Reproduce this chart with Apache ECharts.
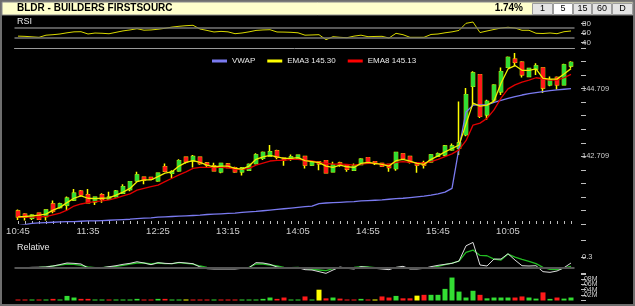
<!DOCTYPE html>
<html>
<head>
<meta charset="utf-8">
<script src="https://cdn.jsdelivr.net/npm/echarts@6.0.0/dist/echarts.min.js"></script>
<style>
html,body{margin:0;padding:0;background:#000;}
#chart{width:635px;height:306px;}
</style>
</head>
<body>
<div id="chart"></div>
<script>
// 5 minute bars, day 1 10:45-15:55, day 2 9:30-10:50
var times = ['10:45','10:50','10:55','11:00','11:05','11:10','11:15','11:20','11:25','11:30',
  '11:35','11:40','11:45','11:50','11:55','12:00','12:05','12:10','12:15','12:20',
  '12:25','12:30','12:35','12:40','12:45','12:50','12:55','13:00','13:05','13:10',
  '13:15','13:20','13:25','13:30','13:35','13:40','13:45','13:50','13:55','14:00',
  '14:05','14:10','14:15','14:20','14:25','14:30','14:35','14:40','14:45','14:50',
  '14:55','15:00','15:05','15:10','15:15','15:20','15:25','15:30','15:35','15:40',
  '15:45','15:50','15:55','9:30','9:35','9:40','9:45','9:50','9:55','10:00',
  '10:05','10:10','10:15','10:20','10:25','10:30','10:35','10:40','10:45','10:50'];

var opens = [141.09,141.00,140.88,141.03,140.93,141.30,141.20,141.27,141.42,141.68,
  141.57,141.37,141.57,141.44,141.52,141.62,141.73,141.99,142.09,142.08,
  141.99,142.40,142.21,142.28,142.68,142.58,142.68,142.51,142.42,142.25,
  142.48,142.37,142.25,142.30,142.50,142.65,142.72,142.87,142.65,142.62,
  142.63,142.70,142.45,142.54,142.58,142.25,142.51,142.45,142.30,142.47,
  142.67,142.55,142.50,142.47,142.35,142.78,142.70,142.50,142.52,142.55,
  142.72,142.75,142.90,142.95,143.35,144.78,145.12,143.94,144.38,144.62,
  145.34,145.58,145.49,145.07,145.29,145.32,144.82,145.04,144.82,145.38];
var closes = [140.92,140.91,140.97,140.85,141.12,141.09,141.30,141.47,141.62,141.57,
  141.34,141.50,141.44,141.50,141.68,141.81,141.96,142.16,142.01,142.03,
  142.21,142.27,142.25,142.58,142.55,142.70,142.50,142.45,142.28,142.50,
  142.38,142.25,142.36,142.47,142.75,142.82,142.84,142.68,142.61,142.69,
  142.74,142.45,142.55,142.49,142.22,142.45,142.45,142.33,142.42,142.62,
  142.52,142.50,142.42,142.38,142.82,142.65,142.53,142.45,142.45,142.75,
  142.78,143.01,143.01,143.10,144.53,145.17,143.89,144.33,144.81,145.21,
  145.63,145.49,145.12,145.30,145.38,144.73,144.97,144.82,145.41,145.48];
var lows = [140.83,140.81,140.83,140.83,140.81,141.03,141.17,141.12,141.39,141.52,
  141.32,141.27,141.34,141.42,141.49,141.60,141.68,141.96,141.88,142.01,
  141.96,142.25,142.06,142.25,142.50,142.38,142.46,142.39,142.28,142.21,
  142.36,142.22,142.14,142.28,142.47,142.60,142.70,142.62,142.43,142.58,
  142.60,142.35,142.42,142.30,142.21,142.25,142.40,142.25,142.30,142.45,
  142.50,142.45,142.39,142.25,142.28,142.60,142.50,142.22,142.35,142.52,
  142.69,142.70,142.87,142.75,143.30,144.23,143.84,143.79,144.33,144.52,
  145.32,145.37,145.04,145.06,145.11,144.58,144.78,144.68,144.81,145.31];
var highs = [141.14,141.03,141.00,141.04,141.14,141.40,141.34,141.52,141.74,141.71,
  141.74,141.52,141.62,141.66,141.71,141.88,141.98,142.25,142.11,142.10,
  142.23,142.50,142.30,142.62,142.70,142.75,142.70,142.54,142.52,142.51,
  142.51,142.40,142.39,142.50,142.80,142.85,143.04,142.90,142.66,142.76,
  142.76,142.72,142.57,142.55,142.60,142.55,142.55,142.47,142.50,142.65,
  142.69,142.57,142.52,142.48,142.84,142.80,142.72,142.53,142.58,142.78,
  142.82,143.04,143.09,144.33,144.73,145.22,145.14,144.38,144.84,145.33,
  145.66,145.76,145.52,145.32,145.46,145.34,145.07,145.07,145.44,145.52];

var ema3 = [140.92,140.93,140.95,140.97,141.00,141.12,141.20,141.34,141.47,141.54,
  141.47,141.46,141.47,141.48,141.56,141.65,141.76,141.96,142.01,142.01,
  142.11,142.21,142.25,142.42,142.53,142.58,142.53,142.45,142.40,142.42,
  142.42,142.35,142.33,142.42,142.62,142.69,142.74,142.69,142.65,142.65,
  142.67,142.58,142.55,142.52,142.42,142.38,142.45,142.40,142.38,142.50,
  142.53,142.50,142.47,142.42,142.58,142.62,142.57,142.50,142.47,142.62,
  142.72,142.84,142.94,143.04,143.66,144.28,144.19,144.22,144.34,144.87,
  145.29,145.39,145.25,145.25,145.29,145.01,144.99,144.99,145.14,145.30];
var ema8 = [140.91,140.91,140.91,140.92,140.93,140.98,141.03,141.12,141.24,141.30,
  141.34,141.37,141.39,141.42,141.47,141.54,141.60,141.71,141.76,141.81,
  141.86,141.96,142.06,142.16,142.25,142.35,142.38,142.38,142.38,142.38,
  142.37,142.33,142.32,142.35,142.45,142.51,142.57,142.59,142.59,142.62,
  142.62,142.59,142.57,142.53,142.50,142.48,142.48,142.47,142.45,142.48,
  142.50,142.50,142.48,142.47,142.53,142.55,142.53,142.52,142.50,142.55,
  142.62,142.70,142.78,142.90,143.17,143.63,143.69,143.83,144.08,144.43,
  144.70,144.82,144.90,144.96,145.03,145.00,144.96,144.96,145.03,145.13];
var vwap = [140.66,140.69,140.73,140.74,140.75,140.76,140.77,140.78,140.78,140.79,
  140.80,140.80,140.81,140.82,140.83,140.84,140.85,140.87,140.88,140.89,
  140.91,140.92,140.93,140.94,140.95,140.96,140.97,140.99,141.00,141.01,
  141.02,141.03,141.05,141.07,141.08,141.10,141.12,141.14,141.16,141.18,
  141.20,141.22,141.24,141.31,141.33,141.34,141.35,141.36,141.37,141.39,
  141.40,141.41,141.42,141.44,141.46,141.47,141.49,141.51,141.53,141.56,
  141.60,141.65,141.76,142.95,144.02,144.22,144.23,144.23,144.30,144.36,
  144.42,144.47,144.52,144.56,144.59,144.62,144.65,144.67,144.69,144.71];

var rsi = [53,52.5,51.5,50.5,55,56,57.5,60,62,62.3,
  57.5,59.5,59,58,61,64,66,68.6,65.5,66,
  67.5,69.5,72,73.7,75,75.8,68,65,61.7,63,
  62,58.1,59.6,62,65,66,66.5,61.7,61.5,61,
  60,55,55.5,56,45.5,51.8,50.5,49.7,53,55,
  51.8,52.3,52.6,49,58.9,56,50.5,50.5,50.5,56.5,
  57.5,60,62,65,80,82.7,60.5,63.8,67,70,
  71.6,70,65.3,65.3,59,58.5,59.6,58.1,62.3,63.8];
var rsiBands = [70, 50];

var relGreen = [0.113,0.113,0.113,0.12,0.129,0.144,0.16,0.18,0.174,0.156,
  0.126,0.113,0.113,0.126,0.138,0.156,0.18,0.198,0.198,0.18,
  0.198,0.186,0.186,0.204,0.192,0.18,0.144,0.12,0.102,0.102,
  0.102,0.102,0.108,0.12,0.18,0.18,0.162,0.144,0.12,0.113,
  0.12,0.096,0.084,0.072,0.06,0.096,0.108,0.113,0.12,0.132,
  0.126,0.113,0.108,0.102,0.113,0.12,0.102,0.102,0.102,0.113,
  0.138,0.168,0.198,0.234,0.39,0.431,0.335,0.329,0.269,0.251,
  0.359,0.305,0.263,0.227,0.186,0.12,0.084,0.078,0.108,0.138];
var relWhite = [0.113,0.113,0.12,0.122,0.126,0.144,0.17,0.198,0.192,0.18,
  0.108,0.113,0.113,0.132,0.15,0.174,0.192,0.221,0.198,0.168,
  0.204,0.192,0.186,0.21,0.198,0.186,0.126,0.096,0.09,0.09,
  0.09,0.09,0.102,0.113,0.204,0.198,0.174,0.126,0.102,0.108,
  0.113,0.078,0.072,0.042,0.012,0.072,0.126,0.102,0.09,0.132,
  0.12,0.102,0.09,0.078,0.12,0.138,0.09,0.09,0.102,0.132,
  0.156,0.174,0.192,0.234,0.508,0.569,0.162,0.144,0.269,0.269,
  0.365,0.251,0.149,0.144,0.149,0.042,0.03,0.054,0.113,0.198];
var relBase = 0.113;

// volume in millions, colour key g/r/y per bar
var vol = [0.003,0.003,0.003,0.003,0.003,0.006,0.003,0.017,0.011,0.006,
  0.006,0.003,0.003,0.003,0.003,0.003,0.003,0.006,0.003,0.003,
  0.006,0.006,0.003,0.003,0.003,0.003,0.003,0.003,0.003,0.003,
  0.003,0.003,0.003,0.003,0.003,0.006,0.011,0.006,0.011,0.003,
  0.003,0.015,0.003,0.040,0.008,0.011,0.007,0.003,0.003,0.006,
  0.003,0.003,0.015,0.011,0.017,0.008,0.008,0.018,0.021,0.021,
  0.021,0.043,0.085,0.033,0.011,0.036,0.021,0.008,0.011,0.011,
  0.011,0.011,0.015,0.011,0.007,0.030,0.006,0.011,0.007,0.011];
var volDir = ('rrgrgrgggr' + 'rggrggggrr' + 'grggyrrrgr' + 'rrgggggrrg' +
  'grgyrgrrrg' + 'ryrrgrryrg' + 'ggggggrggg' + 'grrggrgrgg').split('');

var priceLabels = ['142.709', '144.709'];
var volLabels = ['.02M', '.04M', '.06M', '.08M'];

var upC = '#33dd33', downC = '#ff1a1a', wickC = '#ffff00';
var dirColor = {g: upC, r: downC, y: wickC};
var font = 'Liberation Sans, Arial, sans-serif';
var axisGrey = '#cfcfcf';

var myChart = echarts.init(document.getElementById('chart'));

var candleData = times.map(function (t, i) {
    return [opens[i], closes[i], lows[i], highs[i]];
});
// bodies only (no wick) drawn over the yellow wicks
var bodyData = times.map(function (t, i) {
    return [opens[i], closes[i], Math.min(opens[i], closes[i]), Math.max(opens[i], closes[i])];
});
var volData = vol.map(function (v, i) {
    return {value: v, itemStyle: {color: dirColor[volDir[i]]}};
});

var L = 14.5, R = 60.5;

function rightAxis(gi, min, max, interval, fmt, size) {
    return {
        type: 'value', gridIndex: gi, position: 'right', offset: 6.5,
        min: min, max: max, interval: interval,
        axisLine: {show: false},
        axisTick: {show: true, length: 5, lineStyle: {color: '#bdbdbd'}},
        splitLine: {show: false},
        axisLabel: {margin: 1, color: axisGrey, fontSize: size, fontFamily: font, formatter: fmt}
    };
}

function hiddenX(gi) {
    return {type: 'category', gridIndex: gi, data: times, boundaryGap: true, show: false};
}

function txt(x, y, s, size, color, weight, align) {
    return {
        type: 'text', silent: true,
        style: {x: x, y: y, text: s, fill: color, align: align || 'left', verticalAlign: 'middle',
            font: (weight || 'normal') + ' ' + size + 'px ' + font}
    };
}

var buttons = [['1', 532, 20], ['5', 553, 19], ['15', 573, 18], ['60', 592, 19], ['D', 612, 20]];
var graphics = [
    {type: 'rect', silent: true, shape: {x: 1, y: 1, width: 633, height: 304},
        style: {fill: null, stroke: '#6e6e6e', lineWidth: 2}},
    {type: 'rect', silent: true, shape: {x: 2, y: 2, width: 631, height: 13},
        style: {fill: '#ffffcc', stroke: '#8a8a8a', lineWidth: 1}},
    txt(17, 8.5, 'BLDR - BUILDERS FIRSTSOURC', 10, '#000', 'bold'),
    txt(523, 8.5, '1.74%', 10, '#000', 'bold', 'right'),
    txt(17, 22, 'RSI', 9, '#e6e6e6'),
    txt(17, 248, 'Relative', 9, '#e6e6e6')
];
buttons.forEach(function (b) {
    graphics.push({type: 'rect', silent: true, shape: {x: b[1] + 0.5, y: 3.5, width: b[2], height: 11},
        style: {fill: b[0] === '5' ? '#ffffff' : '#e4e4e4', stroke: '#9c9c9c', lineWidth: 1}});
    graphics.push(txt(b[1] + 0.5 + b[2] / 2, 9, b[0], 9, '#000', 'normal', 'center'));
});

var option = {
    backgroundColor: '#000',
    animation: false,
    graphic: graphics,
    legend: {
        data: ['VWAP', 'EMA3 145.30', 'EMA8 145.13'],
        left: 207, top: 52,
        icon: 'rect', itemWidth: 15, itemHeight: 3, itemGap: 12,
        selectedMode: false,
        textStyle: {color: '#e8e8e8', fontSize: 8, fontFamily: font}
    },
    grid: [
        {left: L, right: R, top: 23.3, height: 19},
        {left: L, right: R, top: 48, height: 176},
        {left: L, right: R, top: 240.7, height: 33.3},
        {left: L, right: R, top: 273.5, height: 27}
    ],
    xAxis: [
        hiddenX(0),
        {
            type: 'category', gridIndex: 1, data: times, boundaryGap: true,
            axisLine: {show: false},
            axisTick: {show: true, inside: true, length: 3, alignWithLabel: true, interval: 0,
                lineStyle: {color: '#bdbdbd'}},
            axisLabel: {interval: 9, margin: 2, color: axisGrey, fontSize: 9.5, fontFamily: font},
            splitLine: {show: false}
        },
        {
            type: 'category', gridIndex: 1, data: times, position: 'top',
            axisLine: {show: true, lineStyle: {color: '#9a9a9a', width: 1}},
            axisTick: {show: false}, axisLabel: {show: false}
        },
        hiddenX(2),
        hiddenX(3)
    ],
    yAxis: [
        rightAxis(0, 40, 80, 20, function (v) { return String(v); }, 8),
        rightAxis(1, 140.709, 145.909, 0.4, function (v) {
            var s = v.toFixed(3);
            return priceLabels.indexOf(s) >= 0 ? s : '';
        }, 7.5),
        rightAxis(2, 0, 0.6, 0.3, function (v) {
            return Math.abs(v - 0.3) < 1e-6 ? '0.3' : '';
        }, 7.5),
        rightAxis(3, 0, 0.1, 0.02, function (v) {
            var s = '.' + v.toFixed(2).split('.')[1] + 'M';
            return volLabels.indexOf(s) >= 0 ? s : '';
        }, 7)
    ],
    series: [
        {
            name: 'RSI', type: 'line', xAxisIndex: 0, yAxisIndex: 0, data: rsi,
            symbol: 'none', clip: false,
            lineStyle: {color: '#d8d800', width: 1},
            markLine: {
                silent: true, symbol: 'none', label: {show: false},
                lineStyle: {color: '#777', width: 1.5, type: 'solid'},
                data: rsiBands.map(function (b) { return {yAxis: b}; })
            }
        },
        {
            name: 'wicks', type: 'candlestick', xAxisIndex: 1, yAxisIndex: 1, data: candleData,
            barWidth: 4,
            itemStyle: {color: wickC, color0: wickC, borderColor: wickC, borderColor0: wickC, borderWidth: 1.5}
        },
        {
            name: 'bodies', type: 'candlestick', xAxisIndex: 1, yAxisIndex: 1, data: bodyData,
            barWidth: 4,
            itemStyle: {color: upC, color0: downC, borderColor: upC, borderColor0: downC, borderWidth: 1}
        },
        {
            name: 'VWAP', type: 'line', xAxisIndex: 1, yAxisIndex: 1, data: vwap,
            symbol: 'none', itemStyle: {color: '#7a7af0'}, lineStyle: {color: '#7a7af0', width: 1.3}
        },
        {
            name: 'EMA8 145.13', type: 'line', xAxisIndex: 1, yAxisIndex: 1, data: ema8,
            symbol: 'none', itemStyle: {color: '#ff0000'}, lineStyle: {color: '#e00000', width: 1.3}
        },
        {
            name: 'EMA3 145.30', type: 'line', xAxisIndex: 1, yAxisIndex: 1, data: ema3,
            symbol: 'none', itemStyle: {color: '#ffff00'}, lineStyle: {color: '#f0f000', width: 1.3}
        },
        {
            name: 'relGreen', type: 'line', xAxisIndex: 3, yAxisIndex: 2, data: relGreen,
            symbol: 'none', lineStyle: {color: '#22bb22', width: 1.3},
            markLine: {
                silent: true, symbol: 'none', label: {show: false},
                lineStyle: {color: '#555', width: 2, type: 'solid'},
                data: [{yAxis: relBase}]
            }
        },
        {
            name: 'relWhite', type: 'line', xAxisIndex: 3, yAxisIndex: 2, data: relWhite,
            symbol: 'none', lineStyle: {color: '#dcdcdc', width: 1}
        },
        {
            name: 'Volume', type: 'bar', xAxisIndex: 4, yAxisIndex: 3, data: volData,
            barWidth: 5, barMinHeight: 1
        }
    ]
};

myChart.setOption(option, true);
</script>
</body>
</html>
